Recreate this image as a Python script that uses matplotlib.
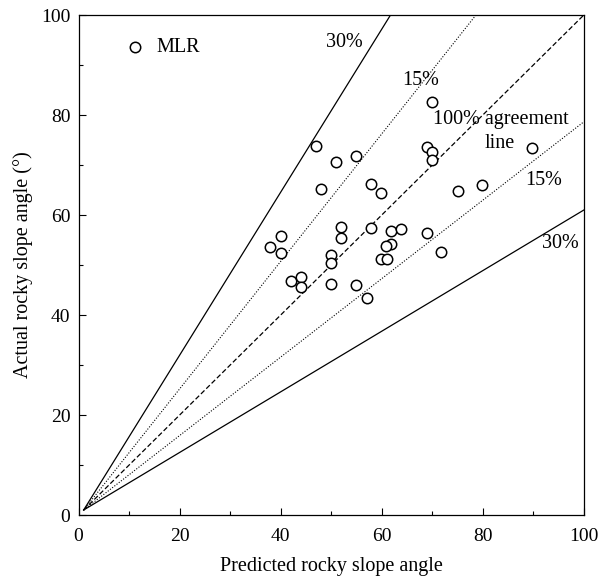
import numpy as np
import matplotlib
matplotlib.use("Agg")
import matplotlib.pyplot as plt
from matplotlib.ticker import MultipleLocator

# predicted vs actual rocky slope angle (MLR)
predicted = [46.9, 50.9, 54.9, 47.9, 57.9, 59.9, 52.0, 52.0, 57.9, 61.9,
             63.9, 61.9, 60.9, 59.9, 61.0, 40.0, 37.9, 40.0, 50.0, 50.0,
             42.0, 44.0, 44.0, 50.0, 54.9, 57.0,
             69.9, 68.9, 69.9, 69.9, 89.8, 75.0, 79.9, 68.9, 71.8]
actual = [73.8, 70.7, 71.9, 65.3, 66.2, 64.4, 57.7, 55.5, 57.5, 56.9,
          57.2, 54.3, 53.8, 51.3, 51.3, 55.9, 53.7, 52.5, 52.1, 50.5,
          46.8, 47.7, 45.6, 46.3, 46.1, 43.5,
          82.6, 73.7, 72.7, 71.0, 73.5, 64.9, 66.1, 56.5, 52.7]

# bounds around the 1:1 line
slope_30 = 1.63
slope_15 = 1.275
x0 = 1.0

plt.rcParams['font.family'] = ['Liberation Serif', 'DejaVu Serif']
plt.rcParams['font.size'] = 14.5

fig = plt.figure(figsize=(6, 5.79), dpi=100)
ax = fig.add_axes([0.131, 0.1105, 0.842, 0.8635])

xs = np.array([x0, 100.0])
ax.plot(xs, x0 + (xs - x0) * slope_30, color='black', lw=0.9)
ax.plot(xs, x0 + (xs - x0) / 1.65, color='black', lw=0.9)
ax.plot(xs, x0 + (xs - x0) * slope_15, color='black', lw=0.8, linestyle=(0, (1, 1.5)))
ax.plot(xs, x0 + (xs - x0) / slope_15, color='black', lw=0.8, linestyle=(0, (1, 1.5)))
ax.plot(xs, xs, color='black', lw=0.9, linestyle=(0, (4, 2)))

ax.plot(predicted, actual, 'o', mfc='white', mec='black', ms=7.5, mew=1.1)

# legend entry
ax.plot([11.2], [93.6], 'o', mfc='white', mec='black', ms=7.5, mew=1.1)
ax.text(15.5, 93.6, 'MLR', va='center', ha='left')

ax.text(52.6, 94.6, '30%', ha='center', va='center')
ax.text(67.8, 87.0, '15%', ha='center', va='center')
ax.text(83.5, 79.1, '100% agreement', ha='center', va='center')
ax.text(83.4, 74.3, 'line', ha='center', va='center')
ax.text(92.1, 67.0, '15%', ha='center', va='center')
ax.text(95.4, 54.3, '30%', ha='center', va='center')

ax.set_xlim(0, 100)
ax.set_ylim(0, 100)
ax.xaxis.set_major_locator(MultipleLocator(20))
ax.yaxis.set_major_locator(MultipleLocator(20))
ax.xaxis.set_minor_locator(MultipleLocator(10))
ax.yaxis.set_minor_locator(MultipleLocator(10))
ax.tick_params(which='both', direction='in', top=False, right=False)
ax.tick_params(which='major', length=5, width=0.8, labelsize=14)
ax.tick_params(which='minor', length=3, width=0.8)
ax.tick_params(axis='x', which='major', pad=9)
ax.tick_params(axis='y', which='major', pad=6)
for s in ax.spines.values():
    s.set_linewidth(0.9)

ax.set_xlabel('Predicted rocky slope angle', labelpad=9)
ax.set_ylabel('Actual rocky slope angle (°)', labelpad=6)

fig.savefig('out.png', dpi=100)
